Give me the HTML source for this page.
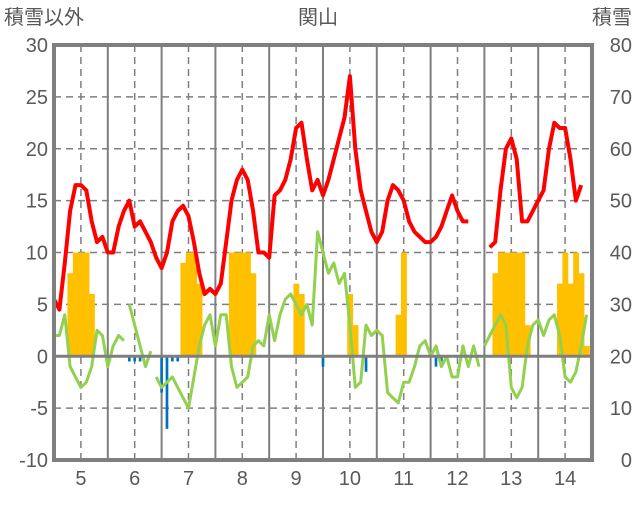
<!DOCTYPE html>
<html><head><meta charset="utf-8"><style>
body{margin:0;background:#fff}
svg text{font-family:"Liberation Sans","Noto Sans CJK JP",sans-serif;fill:#595959}
</style></head><body>
<svg id="chart" width="636" height="501">
<g id="grid"></g>
<g id="bars"></g>
<g id="lines"></g>
<g id="axes"></g>
<text x="318" y="24" font-size="20" text-anchor="middle">関山</text>
<text x="4" y="24" font-size="20">積雪以外</text>
<text x="632" y="24" font-size="20" text-anchor="end">積雪</text>
</svg>
<script>
const yearLabels=[5,6,7,8,9,10,11,12,13,14];
const leftTicks=[-10,-5,0,5,10,15,20,25,30];
const rightTicks=[0,10,20,30,40,50,60,70,80];
const startYear=4.5, stepYear=0.1;
const redSeries=[5.5,4.5,9,14,16.5,16.5,16,13,11,11.5,10,10,12.5,14,15,12.5,13,12,11,9.5,8.5,10,13,14,14.5,13.5,11,8,6,6.5,6,7,11,15,17,18,17,14,10,10,9.5,15.5,16,17,19,22,22.5,19,16,17,15.5,17,19,21,23,27,20,16,14,12,11,12,15,16.5,16,15,13,12,11.5,11,11,11.5,12.5,14,15.5,14,13,13,null,null,null,10.5,11,16,20,21,19,13,13,14,15,16,20,22.5,22,22,19,15,16.5];
const greenSeries=[2,2,4,-1,-2,-3,-2.5,-1,2.5,2,-1,1,2,1.5,5,3,1,-1,0.5,-2,-3,-2.5,-2,-3,-4,-5,-2,1,3,4,1,4,4,-1,-3,-2.5,-2,1,1.5,1,4,1.5,4,5.5,6,5,4,5,3,12,10,8,9,7,8,3,-3,-2.5,3,2,2.5,2,-3.5,-4,-4.5,-2.5,-2.5,-1,1,1.5,0,1,-1,0,-2,-2,1,-1,1,-1,1,2,3,4,3,-3,-4,-3,1,3,3.5,2,3.5,4,2,-2,-2.5,-1.5,1,4];
const greenGaps=[13.5,18.5,79.5];
const snowBars=[0,0,0,8,10,10,10,6,0,0,0,0,0,0,0,0,0,0,0,0,0,0,0,0,9,10,10,7,0,0,0,0,0,10,10,10,10,8,0,0,0,0,0,0,0,7,6,0,0,0,0,0,0,0,0,6,3,0,0,0,0,0,0,0,4,10,0,0,0,0,0,0,0,0,0,0,0,0,0,0,0,0,8,10,10,10,10,10,3,0,0,0,0,0,7,10,7,10,8,1,0];
const otherBars=[0,0,0,0,0,0,0,0,0,0,0,0,0,0,-0.5,-0.5,-0.5,0,0,0,-3.5,-7,-0.5,-0.5,0,0,0,0,0,0,0,0,0,0,0,0,0,0,0,0,0,0,0,0,0,0,0,0,0,0,-1,0,0,0,0,0,0,0,-1.5,0,0,0,0,0,0,0,0,0,0,0,0,-1,-0.5,0,0,0,0,0,0,0,0,0,0,0,0,0,0,0,0,0,0,0,0,0,0,0,0,0,0,0,0];
const L=54,R=592,T=45,B=460;
const xY=y=>L+(y-startYear)*(R-L)/10;
const yL=v=>B-(v+10)*(B-T)/40;
const ns="http://www.w3.org/2000/svg";
function mk(tag,attrs,parent){const e=document.createElementNS(ns,tag);for(const k in attrs)e.setAttribute(k,attrs[k]);parent.appendChild(e);return e;}
const grid=document.getElementById('grid'),bars=document.getElementById('bars'),lines=document.getElementById('lines'),axes=document.getElementById('axes');
leftTicks.forEach((t,i)=>{
 if(t!==-10&&t!==30&&t!==0){const g=mk('line',{x1:L,x2:R,y1:yL(t),y2:yL(t),stroke:'#7f7f7f','stroke-width':1.5,'stroke-dasharray':'7,5'},grid);
 
 }
 const tx=mk('text',{x:48,y:yL(t)+7,'font-size':20,'text-anchor':'end'},axes);tx.textContent=t;
 
 
 const v=rightTicks[i];const rx=mk('text',{x:632,y:yL(t)+7,'font-size':20,'text-anchor':'end'},axes);rx.textContent=v;
 
 
});
yearLabels.forEach(yr=>{
 const d=mk('line',{x1:xY(yr),x2:xY(yr),y1:T,y2:B,stroke:'#7f7f7f','stroke-width':1.5,'stroke-dasharray':'7,5'},grid);
 
 
 if(yr>5){const s=mk('line',{x1:xY(yr-0.5),x2:xY(yr-0.5),y1:T,y2:B,stroke:'#7f7f7f','stroke-width':2},grid);
 
 }
 const tx=mk('text',{x:xY(yr),y:485,'font-size':20,'text-anchor':'middle'},axes);tx.textContent=yr;
 
 
});
const bw=(R-L)/100;
snowBars.forEach((v,i)=>{if(v>0){const b=mk('rect',{x:xY(startYear+i*stepYear)-bw/2,y:yL(v),width:bw+0.5,height:yL(0)-yL(v),fill:'#ffc000'},bars);
 
 }});
otherBars.forEach((v,i)=>{if(v<0){const b=mk('rect',{x:xY(startYear+i*stepYear)-bw/4,y:yL(0),width:bw/2,height:yL(v)-yL(0),fill:'#0070c0'},bars);
 
 }});
function path(arr,gaps){let d='',pen=false;arr.forEach((v,i)=>{
 if(v===null){pen=false;return;}
 const x=xY(startYear+i*stepYear),y=yL(v);d+=(pen?'L':'M')+x.toFixed(1)+','+y.toFixed(1);pen=true;
 if(gaps&&gaps.includes(i+0.5))pen=false;});return d;}
const g=mk('path',{d:path(greenSeries,greenGaps),fill:'none',stroke:'#92d050','stroke-width':3,'stroke-linejoin':'round'},lines);


const r=mk('path',{d:path(redSeries),fill:'none',stroke:'#ff0000','stroke-width':4,'stroke-linejoin':'round'},lines);


const z=mk('line',{x1:L,x2:R,y1:yL(0),y2:yL(0),stroke:'#7f7f7f','stroke-width':3},axes);


const f=mk('rect',{x:L,y:T,width:R-L,height:B-T,fill:'none',stroke:'#7f7f7f','stroke-width':4},axes);


</script>
</body></html>
